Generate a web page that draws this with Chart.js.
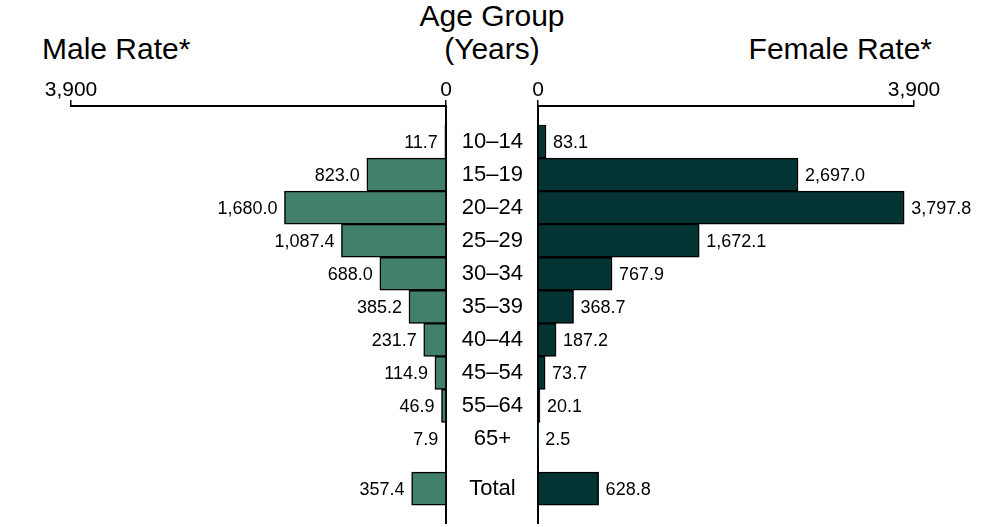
<!DOCTYPE html>
<html>
<head>
<meta charset="utf-8">
<script src="https://cdn.jsdelivr.net/npm/chart.js@4"></script>
<style>
  html, body { margin: 0; padding: 0; background: #fff; }
  body { width: 984px; height: 527px; position: relative; overflow: hidden; font-family: "Liberation Sans", Arial, sans-serif; color: #000; }
  canvas { position: absolute; top: 0; }
  #maleChart { left: 0; }
  #femaleChart { left: 446px; }
  .head { position: absolute; font-size: 30px; white-space: nowrap; }
  #maleTitle { left: 42px; top: 34px; line-height: 30px; }
  #femaleTitle { right: 52px; top: 34px; line-height: 30px; }
  #ageTitle { left: 392px; width: 200px; top: -1px; line-height: 33px; text-align: center; }
</style>
</head>
<body>
<div class="head" id="maleTitle">Male Rate*</div>
<div class="head" id="ageTitle">Age Group<br>(Years)</div>
<div class="head" id="femaleTitle">Female Rate*</div>
<canvas id="maleChart" width="492" height="527"></canvas>
<canvas id="femaleChart" width="538" height="527"></canvas>
<script>
const ageGroups = ['10–14', '15–19', '20–24', '25–29', '30–34', '35–39', '40–44', '45–54', '55–64', '65+', 'Total'];
const maleRates = [11.7, 823.0, 1680.0, 1087.4, 688.0, 385.2, 231.7, 114.9, 46.9, 7.9, 357.4];
const femaleRates = [83.1, 2697.0, 3797.8, 1672.1, 767.9, 368.7, 187.2, 73.7, 20.1, 2.5, 628.8];
const rateTicks = [0, 3900];

// Total sits half a row below the age groups
const rowPos = ageGroups.map((g, i) => g === 'Total' ? i + 0.5 : i);

const FONT = '"Liberation Sans", Arial, sans-serif';
const fmt = v => v.toLocaleString('en-US', { minimumFractionDigits: 1, maximumFractionDigits: 1 });

// labels next to the bar ends
const valueLabels = side => ({
  id: 'valueLabels',
  afterDatasetsDraw(chart) {
    const ctx = chart.ctx;
    const ds = chart.data.datasets[0];
    ctx.save();
    ctx.font = '18px ' + FONT;
    ctx.fillStyle = '#000';
    ctx.textBaseline = 'middle';
    ctx.textAlign = side < 0 ? 'right' : 'left';
    chart.getDatasetMeta(0).data.forEach((bar, i) => {
      ctx.fillText(fmt(ds.data[i].x), bar.x + side * 7, bar.y + 1);
    });
    ctx.restore();
  }
});

function xScale(reverse) {
  return {
    type: 'linear', position: 'top', reverse, min: 0, max: 3900,
    afterBuildTicks: a => { a.ticks = rateTicks.map(v => ({ value: v })); },
    afterFit: a => { a.height = 106; },
    ticks: { callback: v => v.toLocaleString('en-US'), font: { family: FONT, size: 21 }, color: '#000', padding: -3, maxRotation: 0 },
    grid: { drawOnChartArea: false, tickLength: 6, color: '#000', lineWidth: 1.5 },
    border: { color: '#000', width: 2 }
  };
}

// no offset, and no extra room kept for the first/last row labels
const yRange = {
  type: 'linear', reverse: true, offset: false, min: -1.075, max: 11.54,
  afterBuildTicks: a => { a.ticks = rowPos.map(v => ({ value: v })); },
  grid: { display: false, drawTicks: false },
  border: { color: '#000', width: 2 }
};

function barData(values, color) {
  return {
    datasets: [{
      data: values.map((v, i) => ({ x: v, y: rowPos[i] })),
      backgroundColor: color, borderColor: '#000', borderWidth: 1.5,
      barPercentage: 1, categoryPercentage: 1
    }]
  };
}

const common = {
  indexAxis: 'y', responsive: false, animation: false,
  plugins: { legend: { display: false }, tooltip: { enabled: false } }
};

new Chart(document.getElementById('maleChart'), {
  type: 'bar',
  data: barData(maleRates, '#43806c'),
  options: Object.assign({}, common, {
    layout: { padding: { left: 71, right: 46, top: 0, bottom: 4 } },
    scales: {
      x: xScale(true),
      y: Object.assign({}, yRange, {
        position: 'right',
        afterFit: a => { a.width = 0; a.paddingTop = 0; a.paddingBottom = 0; },
        ticks: { display: false }
      })
    }
  }),
  plugins: [valueLabels(-1)]
});

new Chart(document.getElementById('femaleChart'), {
  type: 'bar',
  data: barData(femaleRates, '#033433'),
  options: Object.assign({}, common, {
    layout: { padding: { left: 0, right: 70, top: 0, bottom: 4 } },
    scales: {
      x: xScale(false),
      y: Object.assign({}, yRange, {
        position: 'left',
        afterFit: a => { a.width = 92; a.paddingTop = 0; a.paddingBottom = 0; },
        ticks: { callback: (v, i) => ageGroups[i], crossAlign: 'center', padding: 15, font: { family: FONT, size: 22 }, color: '#000', autoSkip: false }
      })
    }
  }),
  plugins: [valueLabels(1)]
});
</script>
</body>
</html>
